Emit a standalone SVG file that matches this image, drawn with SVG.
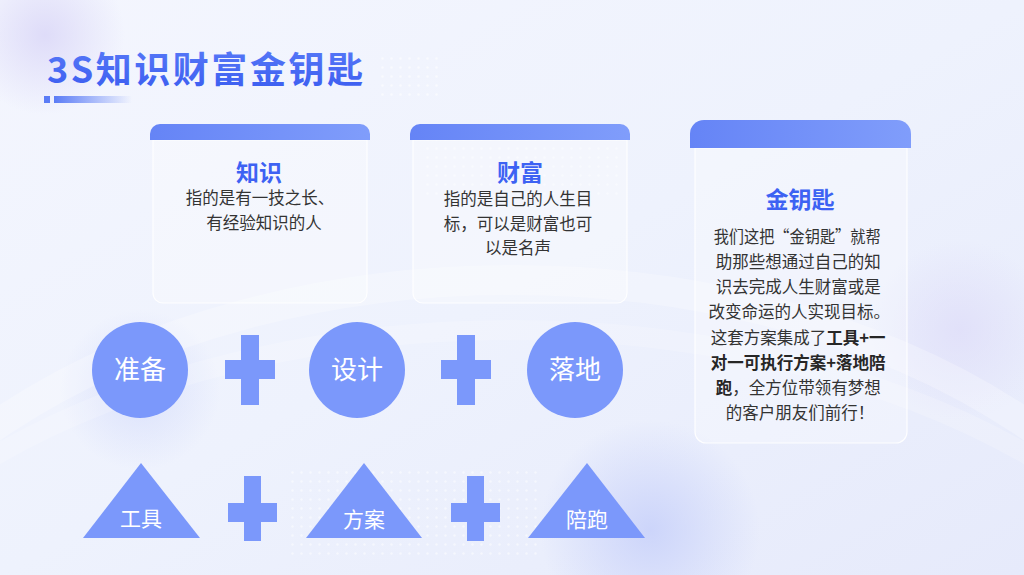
<svg xmlns="http://www.w3.org/2000/svg" width="1024" height="575" viewBox="0 0 1024 575">
<defs>
<linearGradient id="bg" x1="0" y1="0" x2="1" y2="1">
<stop offset="0" stop-color="#f4f6fe"/>
<stop offset="0.5" stop-color="#eef2fd"/>
<stop offset="1" stop-color="#e6eafb"/>
</linearGradient>
<radialGradient id="blob" cx="0.5" cy="0.5" r="0.5">
<stop offset="0" stop-color="#c9d2fa" stop-opacity="0.9"/>
<stop offset="1" stop-color="#c9d2fa" stop-opacity="0"/>
</radialGradient>
<radialGradient id="blob2" cx="0.5" cy="0.5" r="0.5">
<stop offset="0" stop-color="#dcd9f8" stop-opacity="0.9"/>
<stop offset="1" stop-color="#dcd9f8" stop-opacity="0"/>
</radialGradient>
<linearGradient id="titleg" x1="0" y1="0" x2="0" y2="1">
<stop offset="0" stop-color="#5a7cf8"/>
<stop offset="1" stop-color="#3a5cf0"/>
</linearGradient>
<linearGradient id="barg" x1="0" y1="0" x2="1" y2="0">
<stop offset="0" stop-color="#5b7cf6"/>
<stop offset="1" stop-color="#5b7cf6" stop-opacity="0"/>
</linearGradient>
<linearGradient id="headg" x1="0" y1="0" x2="1" y2="0">
<stop offset="0" stop-color="#6584f6"/>
<stop offset="1" stop-color="#809dfb"/>
</linearGradient>
<pattern id="dots" width="9" height="9" patternUnits="userSpaceOnUse">
<circle cx="4.5" cy="4.5" r="1.2" fill="#ffffff" fill-opacity="0.8"/>
</pattern>
<style>
.cjk{font-family:"Noto Sans CJK SC","Noto Sans",sans-serif;}
.ttl{font-size:23px;font-weight:bold;fill:#3d62f3;text-anchor:middle;}
.body{font-size:16.5px;fill:#333333;text-anchor:middle;}
.b{font-weight:bold;fill:#262626;}
.shape{fill:#7b98fb;}
.lbl{fill:#ffffff;text-anchor:middle;}
.card{fill:#ffffff;fill-opacity:0.3;stroke:#ffffff;stroke-opacity:0.9;stroke-width:1.2;}
</style>
</defs>

<g id="background">
<rect x="0" y="0" width="1024" height="575" fill="url(#bg)"/>
<circle cx="45" cy="35" r="80" fill="url(#blob2)"/>
<circle cx="650" cy="530" r="110" fill="url(#blob)"/>
<circle cx="960" cy="330" r="90" fill="url(#blob2)" opacity="0.7"/>
<circle cx="140" cy="390" r="80" fill="url(#blob)" opacity="0.6"/>
<ellipse cx="512" cy="760" rx="720" ry="480" fill="none" stroke="#ffffff" stroke-opacity="0.25" stroke-width="30"/>
<ellipse cx="512" cy="800" rx="760" ry="470" fill="none" stroke="#ffffff" stroke-opacity="0.18" stroke-width="20"/>
<rect x="380" y="55" width="60" height="45" fill="url(#dots)" opacity="0.7"/>
<rect x="420" y="140" width="200" height="60" fill="url(#dots)" opacity="0.5"/>
<rect x="290" y="470" width="250" height="90" fill="url(#dots)" opacity="0.6"/>
</g>

<g id="title">
<text x="47" y="83" class="cjk" font-size="36" font-weight="bold" fill="url(#titleg)" textLength="316" lengthAdjust="spacing">3S知识财富金钥匙</text>
<rect x="44" y="96" width="6" height="7" fill="#5b7cf6"/>
<rect x="54" y="96" width="78" height="7" fill="url(#barg)"/>
</g>

<g id="card-zhishi">
<path d="M153 140 H367 V293 a10 10 0 0 1 -10 10 H163 a10 10 0 0 1 -10 -10 Z" class="card"/>
<path d="M150 140 V134 a10 10 0 0 1 10 -10 H360 a10 10 0 0 1 10 10 V140 Z" fill="url(#headg)"/>
<text x="259" y="181" class="cjk ttl">知识</text>
<text class="cjk body"><tspan x="260" y="204">指的是有一技之长、</tspan><tspan x="264" y="229">有经验知识的人</tspan></text>
</g>

<g id="card-caifu">
<path d="M413 140 H627 V293 a10 10 0 0 1 -10 10 H423 a10 10 0 0 1 -10 -10 Z" class="card"/>
<path d="M410 140 V134 a10 10 0 0 1 10 -10 H620 a10 10 0 0 1 10 10 V140 Z" fill="url(#headg)"/>
<text x="520" y="181" class="cjk ttl">财富</text>
<text class="cjk body"><tspan x="518" y="205">指的是自己的人生目</tspan><tspan x="518" y="230">标，可以是财富也可</tspan><tspan x="518" y="254">以是名声</tspan></text>
</g>

<g id="card-jinyaoshi">
<path d="M695 148 H907 V432 a11 11 0 0 1 -11 11 H706 a11 11 0 0 1 -11 -11 Z" class="card"/>
<path d="M690 148 V134 a14 14 0 0 1 14 -14 H897 a14 14 0 0 1 14 14 V148 Z" fill="url(#headg)"/>
<text x="800" y="208" class="cjk ttl">金钥匙</text>
<text class="cjk body">
<tspan x="799" y="243" textLength="167" lengthAdjust="spacingAndGlyphs">我们这把“金钥匙”就帮</tspan>
<tspan x="800" y="268">助那些想通过自己的知</tspan>
<tspan x="800" y="293">识去完成人生财富或是</tspan>
<tspan x="801" y="318">改变命运的人实现目标。</tspan>
<tspan x="800" y="344">这套方案集成了<tspan class="b">工具+一</tspan></tspan>
<tspan x="800" y="369" class="b">对一可执行方案+落地陪</tspan>
<tspan x="800" y="394"><tspan class="b">跑</tspan>，全方位带领有梦想</tspan>
<tspan x="800" y="419">的客户朋友们前行！</tspan>
</text>
</g>

<g id="circle-zhunbei">
<circle cx="140" cy="370" r="48" class="shape"/>
<text x="140" y="379" class="cjk lbl" font-size="26">准备</text>
</g>
<g id="plus-1">
<rect x="241" y="335" width="18" height="70" class="shape"/>
<rect x="225" y="360" width="50" height="19" class="shape"/>
</g>
<g id="circle-sheji">
<circle cx="357" cy="370" r="48" class="shape"/>
<text x="357" y="379" class="cjk lbl" font-size="26">设计</text>
</g>
<g id="plus-2">
<rect x="457" y="335" width="18" height="70" class="shape"/>
<rect x="441" y="360" width="50" height="19" class="shape"/>
</g>
<g id="circle-luodi">
<circle cx="575" cy="370" r="48" class="shape"/>
<text x="575" y="379" class="cjk lbl" font-size="26">落地</text>
</g>

<g id="tri-gongju">
<polygon points="141,463 200,538 83,538" class="shape"/>
<text x="141" y="526" class="cjk lbl" font-size="21">工具</text>
</g>
<g id="plus-3">
<rect x="244" y="476" width="17" height="65" class="shape"/>
<rect x="228" y="503" width="49" height="19" class="shape"/>
</g>
<g id="tri-fangan">
<polygon points="364,463 422,538 306,538" class="shape"/>
<text x="364" y="527" class="cjk lbl" font-size="21">方案</text>
</g>
<g id="plus-4">
<rect x="467" y="476" width="17" height="65" class="shape"/>
<rect x="451" y="503" width="49" height="19" class="shape"/>
</g>
<g id="tri-peipao">
<polygon points="587,463 645,538 528,538" class="shape"/>
<text x="587" y="527" class="cjk lbl" font-size="21">陪跑</text>
</g>
</svg>
